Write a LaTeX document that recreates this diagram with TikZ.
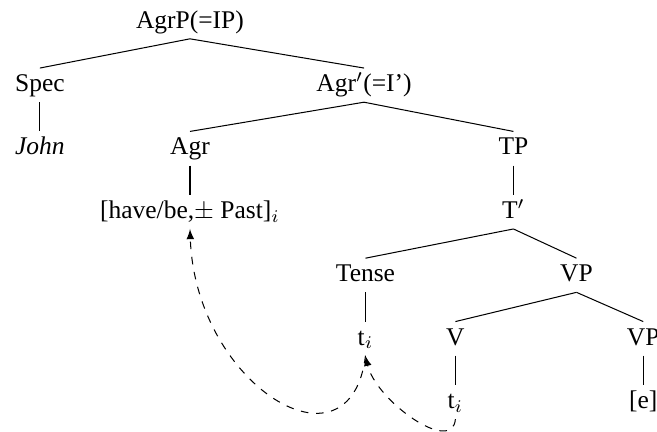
\documentclass[tikz,border=0pt]{standalone}
\usepackage{fontspec}
\setmainfont{Liberation Serif}
\usepackage{amssymb}
\usepackage{tikz}
\usetikzlibrary{positioning}

\begin{document}
\begin{tikzpicture}[
			cat/.style={inner sep=2pt, text height=7pt, text depth=2pt},
			move/.style={dashed, -latex},
			on grid,
		]

		\useasboundingbox (-2.62,0.30) rectangle (6.44,-5.655);

		\node[cat] (agrp)	at (0,0)								  {AgrP(=IP)};
		\node[cat] (spec)  [below left=0.874cm and 2.07cm of agrp]	  {Spec};
		\node[cat] (agrbar) [below right=0.874cm and 2.40cm of agrp]  {Agr$'$(=I’)};
		\node[cat] (john)  [below=0.874cm of spec]					  {\textit{John}};
		\node[cat] (agr)   [below left=0.874cm and 2.40cm of agrbar]  {Agr};
		\node[cat] (tp)    [below right=0.874cm and 2.06cm of agrbar] {TP};
		\node[cat] (have)  [below=0.874cm of agr]					  {[have/be,$\pm$ Past]$_i$};
		\node[cat] (tbar)  [below=0.874cm of tp]					  {T$'$};
		\node[cat] (tense) [below left=0.874cm and 2.04cm of tbar]	  {Tense};
		\node[cat] (vp)    [below right=0.874cm and 0.87cm of tbar]	  {VP};
		\node[cat] (ti)    [below=0.874cm of tense]				  {t$_i$};
		\node[cat] (v)     [below left=0.874cm and 1.67cm of vp]	  {V};
		\node[cat] (vpe)   [below right=0.874cm and 0.92cm of vp]	  {VP};
		\node[cat] (tv)    [below=0.874cm of v]					  {t$_i$};
		\node[cat] (e)     [below=0.874cm of vpe]				  {[e]};


		\draw (agrp.south) -- (spec.north);
		\draw (agrp.south) -- (agrbar.north);
		\draw (spec.south) -- (john.north);
		\draw (agrbar.south) -- (agr.north);
		\draw (agrbar.south) -- (tp.north);
		\draw (agr.south) -- (have.north);
		\draw (tp.south) -- (tbar.north);
		\draw (tbar.south) -- (tense.north);
		\draw (tbar.south) -- (vp.north);
		\draw (tense.south) -- (ti.north);
		\draw (vp.south) -- (v.north);
		\draw (vp.south) -- (vpe.north);
		\draw (v.south) -- (tv.north);
		\draw (vpe.south) -- (e.north);

		\draw[move] (tv.south) .. controls +(-0.04,-0.50) and +(0.14,-0.62) .. (ti.south);
		\draw[move] (ti.south) .. controls +(-0.21,-1.72) and +(0.07,-2.15) .. (have.south);


		\end{tikzpicture}
\end{document}
